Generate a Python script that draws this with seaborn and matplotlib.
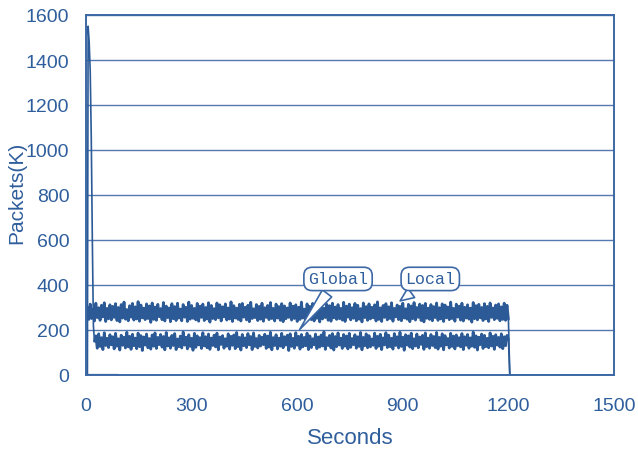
import numpy as np
import matplotlib
matplotlib.use("Agg")
import matplotlib.pyplot as plt
import seaborn as sns

# ---- data -------------------------------------------------------------
# Local traffic, sampled every 4 s from 0 to 1200 s (packets, thousands)
local_pkts = [
    270, 302, 247, 315, 251, 294, 240, 319, 255, 299, 243, 310, 258, 321, 238, 296, 250, 312, 245, 305,
    256, 317, 242, 300, 236, 313, 253, 324, 248, 291, 241, 308, 257, 318, 244, 303, 249, 326, 239, 311,
    254, 297, 246, 316, 251, 307, 234, 320, 247, 302, 243, 314, 259, 295, 246, 322, 240, 306, 255, 298,
    237, 317, 250, 304, 242, 319, 253, 293, 241, 313, 257, 301, 238, 324, 248, 309, 252, 296, 245, 318,
    239, 306, 256, 315, 242, 300, 249, 321, 235, 309, 251, 295, 246, 320, 254, 312, 240, 303, 258, 316,
    244, 298, 249, 325, 238, 308, 253, 297, 247, 314, 240, 318, 257, 301, 245, 310, 237, 323, 251, 294,
    255, 313, 242, 305, 248, 319, 239, 299, 256, 309, 246, 322, 251, 296, 240, 315, 253, 304, 243, 317,
    237, 307, 250, 298, 256, 320, 244, 306, 251, 312, 238, 301, 247, 324, 253, 293, 242, 316, 258, 305,
    246, 318, 240, 300, 252, 311, 236, 321, 249, 297, 255, 314, 243, 308, 239, 319, 254, 302, 247, 313,
    250, 296, 244, 323, 238, 306, 257, 315, 245, 299, 252, 318, 241, 310, 248, 295, 236, 320, 255, 304,
    243, 316, 249, 301, 254, 312, 240, 325, 247, 298, 238, 309, 256, 317, 245, 303, 251, 321, 239, 296,
    258, 311, 246, 305, 241, 319, 253, 294, 248, 314, 237, 307, 250, 322, 244, 300, 256, 315, 242, 309,
    236, 318, 252, 297, 247, 313, 241, 304, 255, 320, 243, 299, 249, 316, 238, 311, 254, 302, 246, 324,
    251, 296, 239, 315, 257, 306, 244, 319, 240, 301, 253, 312, 248, 297, 235, 322, 250, 308, 245, 314,
    254, 300, 242, 317, 249, 305, 238, 320, 256, 298, 246, 311, 252, 316, 241, 303, 247, 319, 243, 310,
    248,
]
local_t = np.arange(0, 1201, 4)

# Global traffic: start-up burst, then steady samples every 4 s from 24 s
global_burst_t = [0, 4, 6, 9, 12, 15, 18, 21]
global_burst_pkts = [0, 0, 1550, 1480, 1350, 1050, 600, 220]
global_pkts = [
    150, 174, 119, 183, 127, 166, 113, 188, 131, 163, 122, 179, 134, 170, 116, 185, 128, 161, 111, 177,
    132, 168, 120, 190, 125, 172, 114, 181, 130, 164, 117, 186, 126, 175, 109, 169, 133, 182, 121, 162,
    115, 178, 128, 187, 118, 167, 135, 180, 124, 171, 112, 189, 129, 165, 119, 176, 131, 184, 113, 160,
    126, 173, 120, 191, 133, 168, 116, 179, 127, 163, 110, 185, 123, 174, 134, 166, 118, 188, 129, 170,
    121, 182, 114, 164, 131, 177, 125, 186, 112, 169, 136, 175, 119, 161, 128, 183, 115, 172, 132, 178,
    117, 189, 126, 167, 111, 180, 130, 165, 122, 184, 134, 171, 113, 187, 127, 162, 120, 176, 129, 168,
    135, 181, 118, 173, 124, 190, 112, 166, 131, 179, 116, 164, 128, 185, 121, 170, 133, 177, 109, 183,
    127, 163, 119, 188, 132, 172, 115, 180, 125, 167, 130, 186, 113, 174, 122, 161, 134, 182, 117, 169,
    124, 178, 129, 192, 114, 166, 131, 176, 120, 184, 111, 171, 126, 187, 133, 164, 118, 180, 128, 173,
    116, 185, 123, 162, 135, 179, 119, 170, 127, 189, 112, 167, 130, 183, 121, 175, 125, 160, 132, 186,
    118, 172, 128, 181, 113, 165, 134, 188, 122, 177, 126, 163, 115, 184, 131, 170, 120, 190, 127, 168,
    110, 179, 133, 174, 124, 186, 117, 161, 129, 182, 121, 169, 136, 176, 114, 187, 126, 164, 119, 180,
    131, 171, 122, 189, 115, 167, 128, 183, 112, 175, 134, 162, 120, 185, 127, 173, 116, 178, 130, 166,
    125, 184, 113, 170, 132, 180, 119, 165, 128, 191, 123, 174, 111, 168, 135, 182, 118, 176, 126, 163,
    121, 187, 129, 172, 114, 179, 133, 167, 124, 183, 117, 170, 130, 176, 158,
]
global_t = np.arange(24, 1201, 4)

# Both flows stop after the run
stop_t = [1204, 1500]
stop_pkts = [0, 0]

# Idle baseline at the start of the run
idle_t = [0, 90]
idle_pkts = [0, 0]

x_ticks = [0, 300, 600, 900, 1200, 1500]
y_ticks = [0, 200, 400, 600, 800, 1000, 1200, 1400, 1600]

# ---- style ------------------------------------------------------------
sns.set_style("white")
plt.rcParams["font.family"] = ["Liberation Sans", "DejaVu Sans"]

LINE = "#2B5A97"
FRAME = "#3C68A6"
GRID = "#5379B0"
TEXT = "#2F5E9C"

fig = plt.figure(figsize=(6.38, 4.52), dpi=100)
ax = fig.add_axes([86 / 638, 1 - 376 / 452, 528 / 638, 360 / 452])


def trace(x, y, lw):
    sns.lineplot(x=x, y=y, ax=ax, color=LINE, lw=lw, estimator=None, sort=False)


# idle baseline
trace(idle_t, idle_pkts, 1.6)
# steady-state bands (dense samples drawn heavier so they read as a band)
trace(local_t, local_pkts, 2.0)
trace(global_t, global_pkts, 2.0)
# start-up burst into the first global sample
trace(np.r_[global_burst_t, global_t[0]], np.r_[global_burst_pkts, global_pkts[0]], 1.2)
# shut-down of both flows
trace(np.r_[local_t[-1], stop_t], np.r_[local_pkts[-1], stop_pkts], 1.2)
trace(np.r_[global_t[-1], stop_t], np.r_[global_pkts[-1], stop_pkts], 1.2)

ax.set_xlim(0, 1500)
ax.set_ylim(0, 1600)
ax.set_xticks(x_ticks)
ax.set_yticks(y_ticks)
ax.set_xticklabels([str(v) for v in x_ticks])
ax.set_yticklabels([str(v) for v in y_ticks])
ax.tick_params(axis="both", length=0, labelsize=14, colors=TEXT)
ax.tick_params(axis="y", pad=12)
ax.tick_params(axis="x", pad=16)

ax.yaxis.grid(True, color=GRID, lw=1.0)
ax.xaxis.grid(False)
ax.set_axisbelow(True)
for s in ax.spines.values():
    s.set_color(FRAME)
    s.set_linewidth(1.4)

ax.set_xlabel("Seconds", fontsize=16, color=TEXT, labelpad=9)
ax.set_ylabel("Packets(K)", fontsize=15, color=TEXT)
ax.yaxis.set_label_coords(-0.113, 0.51)

# Callout labels
box = dict(boxstyle="round,pad=0.25,rounding_size=0.5", fc="white", ec=FRAME, lw=1.2)
arrow = dict(arrowstyle="wedge,tail_width=0.7,shrink_factor=0.5",
             fc="white", ec=FRAME, lw=1.2)
ax.annotate("Global", xy=(602, 192), xytext=(716, 427), ha="center", va="center",
            fontsize=12, fontfamily="Liberation Mono", color=TEXT,
            bbox=box, arrowprops=arrow, zorder=5)
ax.annotate("Local", xy=(886, 322), xytext=(978, 427), ha="center", va="center",
            fontsize=12, fontfamily="Liberation Mono", color=TEXT,
            bbox=box, arrowprops=arrow, zorder=5)

fig.savefig("out.png", dpi=100)
